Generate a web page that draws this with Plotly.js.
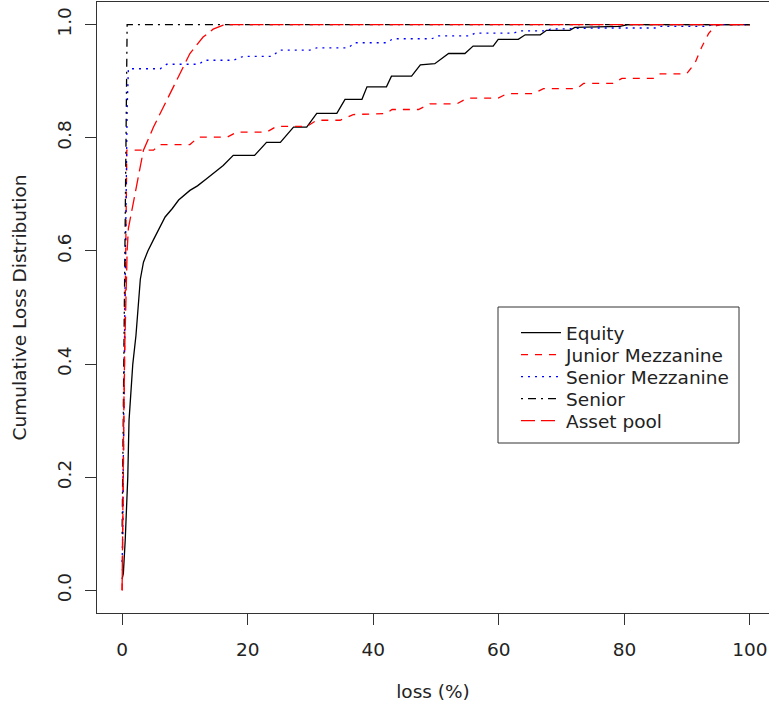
<!DOCTYPE html>
<html>
<head>
<meta charset="utf-8">
<script src="https://cdn.plot.ly/plotly-3.0.1.min.js"></script>
<style>html,body{margin:0;padding:0;background:#fff;}#chart{width:769px;height:709px;}</style>
</head>
<body>
<div id="chart"></div>
<script>
// ---- data ----
const seriesNames = ["Equity", "Junior Mezzanine", "Senior Mezzanine", "Senior", "Asset pool"];

const equityX = [0, 0.2, 0.5, 0.75, 0.9, 1.0, 1.1, 1.4, 1.7, 2.2, 2.5, 2.9, 3.4, 4.1, 5.0, 5.7, 6.85, 8, 9, 10.8, 12, 13.5, 14.8, 16.1, 17.7, 21.1, 23.0, 25.2, 27.3, 29.4, 31.0, 34.2, 35.5, 38.2, 39.0, 42.1, 42.9, 46.1, 47.5, 49.8, 52.0, 54.6, 55.9, 59.1, 59.9, 63.1, 64.2, 66.6, 67.6, 71.3, 72.1, 79.3, 80.5, 100];
const equityY = [0.02, 0.03, 0.09, 0.145, 0.2, 0.25, 0.3, 0.35, 0.4, 0.45, 0.5, 0.55, 0.58, 0.6, 0.62, 0.636, 0.66, 0.675, 0.69, 0.707, 0.715, 0.728, 0.74, 0.751, 0.769, 0.769, 0.792, 0.792, 0.819, 0.819, 0.843, 0.843, 0.868, 0.868, 0.89, 0.89, 0.909, 0.909, 0.929, 0.931, 0.949, 0.949, 0.962, 0.962, 0.974, 0.974, 0.982, 0.982, 0.99, 0.99, 0.995, 0.997, 1.0, 1.0];

const juniorX = [0, 0.2, 0.4, 0.6, 0.75, 5.0, 6.05, 10.8, 12.15, 16.7, 18.3, 23.0, 24.6, 29.4, 31.0, 34.7, 36.8, 42.1, 43.0, 47.2, 49.0, 53.3, 55.0, 59.9, 61.3, 65.5, 67.1, 72.4, 73.5, 78.2, 79.6, 84.6, 85.7, 89.9, 91.2, 92.3, 93.4, 94.4, 95.2, 100];
const juniorY = [0, 0.2, 0.4, 0.6, 0.778, 0.778, 0.788, 0.788, 0.801, 0.801, 0.81, 0.81, 0.82, 0.82, 0.831, 0.831, 0.841, 0.843, 0.85, 0.85, 0.86, 0.86, 0.87, 0.87, 0.878, 0.878, 0.887, 0.887, 0.896, 0.896, 0.905, 0.905, 0.913, 0.913, 0.931, 0.96, 0.984, 0.997, 1.0, 1.0];

const seniorMezzX = [0, 0.1, 0.3, 0.5, 0.8, 1.0, 6.05, 7.1, 12.2, 13.2, 17.7, 19.3, 23.8, 25.2, 29.9, 31.0, 36.0, 37.1, 42.0, 43.2, 49.3, 50.4, 55.4, 56.2, 62.3, 63.4, 67.6, 68.2, 75.1, 85.1, 85.7, 93.1, 94.0, 100];
const seniorMezzY = [0.05, 0.1, 0.37, 0.6, 0.85, 0.922, 0.922, 0.93, 0.93, 0.937, 0.937, 0.944, 0.944, 0.955, 0.955, 0.959, 0.959, 0.968, 0.968, 0.975, 0.975, 0.98, 0.98, 0.985, 0.985, 0.989, 0.989, 0.992, 0.994, 0.994, 0.997, 0.997, 1.0, 1.0];

const seniorX = [0, 0.2, 0.4, 0.6, 0.8, 100];
const seniorY = [0.1, 0.35, 0.6, 0.87, 1.0, 1.0];

const assetX = [0, 0.1, 0.25, 0.4, 0.6, 0.8, 1.0, 1.5, 2.3, 3.4, 5.0, 7.1, 9.0, 10.8, 12.9, 14.5, 16.1, 17, 100];
const assetY = [0, 0.15, 0.3, 0.42, 0.52, 0.6, 0.64, 0.67, 0.713, 0.778, 0.819, 0.866, 0.907, 0.949, 0.978, 0.992, 0.999, 1.0, 1.0];

const xTickVals = [0, 20, 40, 60, 80, 100];
const yTickVals = [0, 0.2, 0.4, 0.6, 0.8, 1.0];
const yTickText = ["0.0", "0.2", "0.4", "0.6", "0.8", "1.0"];

// ---- styling ----
const FONT = "DejaVu Sans";
const FS = 18.5;
const TXT = "#222";
const AX = "#333";

const styles = [
  {color: "#000000", dash: "solid"},
  {color: "#ff0000", dash: "7px,7px"},
  {color: "#0000ff", dash: "2px,5px"},
  {color: "#000000", dash: "2px,5px,8px,5px"},
  {color: "#ff0000", dash: "14px,6px"}
];
const xs = [equityX, juniorX, seniorMezzX, seniorX, assetX];
const ys = [equityY, juniorY, seniorMezzY, seniorY, assetY];
const legendIds = ["legend", "legend2", "legend3", "legend4", "legend5"];

const traces = seriesNames.map((n, i) => ({
  type: "scatter", mode: "lines", name: n,
  x: xs[i], y: ys[i],
  line: {color: styles[i].color, dash: styles[i].dash, width: 1.3},
  legend: legendIds[i],
  hoverinfo: "skip"
}));

// plot area in px: left 97, right 769, top 2, bottom 613
const L = 97, R = 769, T = 2, B = 613;
const px2paperX = p => (p - L) / (R - L);
const px2paperY = p => (B - p) / (B - T);

const legendRowsPx = [333, 355, 377, 399, 421];
const legendLeftPx = 516;

const layout = {
  width: 769, height: 709,
  margin: {l: L, r: 769 - R, t: T, b: 709 - B},
  paper_bgcolor: "#fff", plot_bgcolor: "#fff",
  font: {family: FONT, size: FS, color: TXT},
  showlegend: true,
  xaxis: {
    range: [-4, 103.03], tickmode: "array", tickvals: xTickVals,
    ticks: "outside", ticklen: 11, tickwidth: 1, tickcolor: AX,
    ticklabelstandoff: 9,
    showline: true, linecolor: AX, linewidth: 1, mirror: true,
    showgrid: false, zeroline: false,
    tickfont: {family: FONT, size: FS, color: TXT},
    title: {text: "loss (%)", font: {family: FONT, size: FS, color: TXT}, standoff: 25}
  },
  yaxis: {
    range: [-0.04, 1.04], tickmode: "array", tickvals: yTickVals, ticktext: yTickText,
    tickangle: -90,
    ticks: "outside", ticklen: 11, tickwidth: 1, tickcolor: AX,
    ticklabelstandoff: 7,
    showline: true, linecolor: AX, linewidth: 1, mirror: false,
    showgrid: false, zeroline: false,
    tickfont: {family: FONT, size: FS, color: TXT},
    title: {text: "Cumulative Loss Distribution", font: {family: FONT, size: FS, color: TXT}, standoff: 22}
  },
  shapes: [{
    type: "rect", xref: "paper", yref: "paper",
    x0: px2paperX(498), x1: px2paperX(739), y0: px2paperY(443), y1: px2paperY(307),
    line: {color: AX, width: 1}, fillcolor: "rgba(0,0,0,0)"
  }]
};
legendIds.forEach((id, i) => {
  layout[id] = {
    x: px2paperX(legendLeftPx), xanchor: "left",
    y: px2paperY(legendRowsPx[i]), yanchor: "middle",
    bgcolor: "rgba(0,0,0,0)", borderwidth: 0, itemwidth: 40,
    font: {family: FONT, size: FS, color: TXT}
  };
});

Plotly.newPlot("chart", traces, layout, {staticPlot: true, displayModeBar: false});
</script>
</body>
</html>
